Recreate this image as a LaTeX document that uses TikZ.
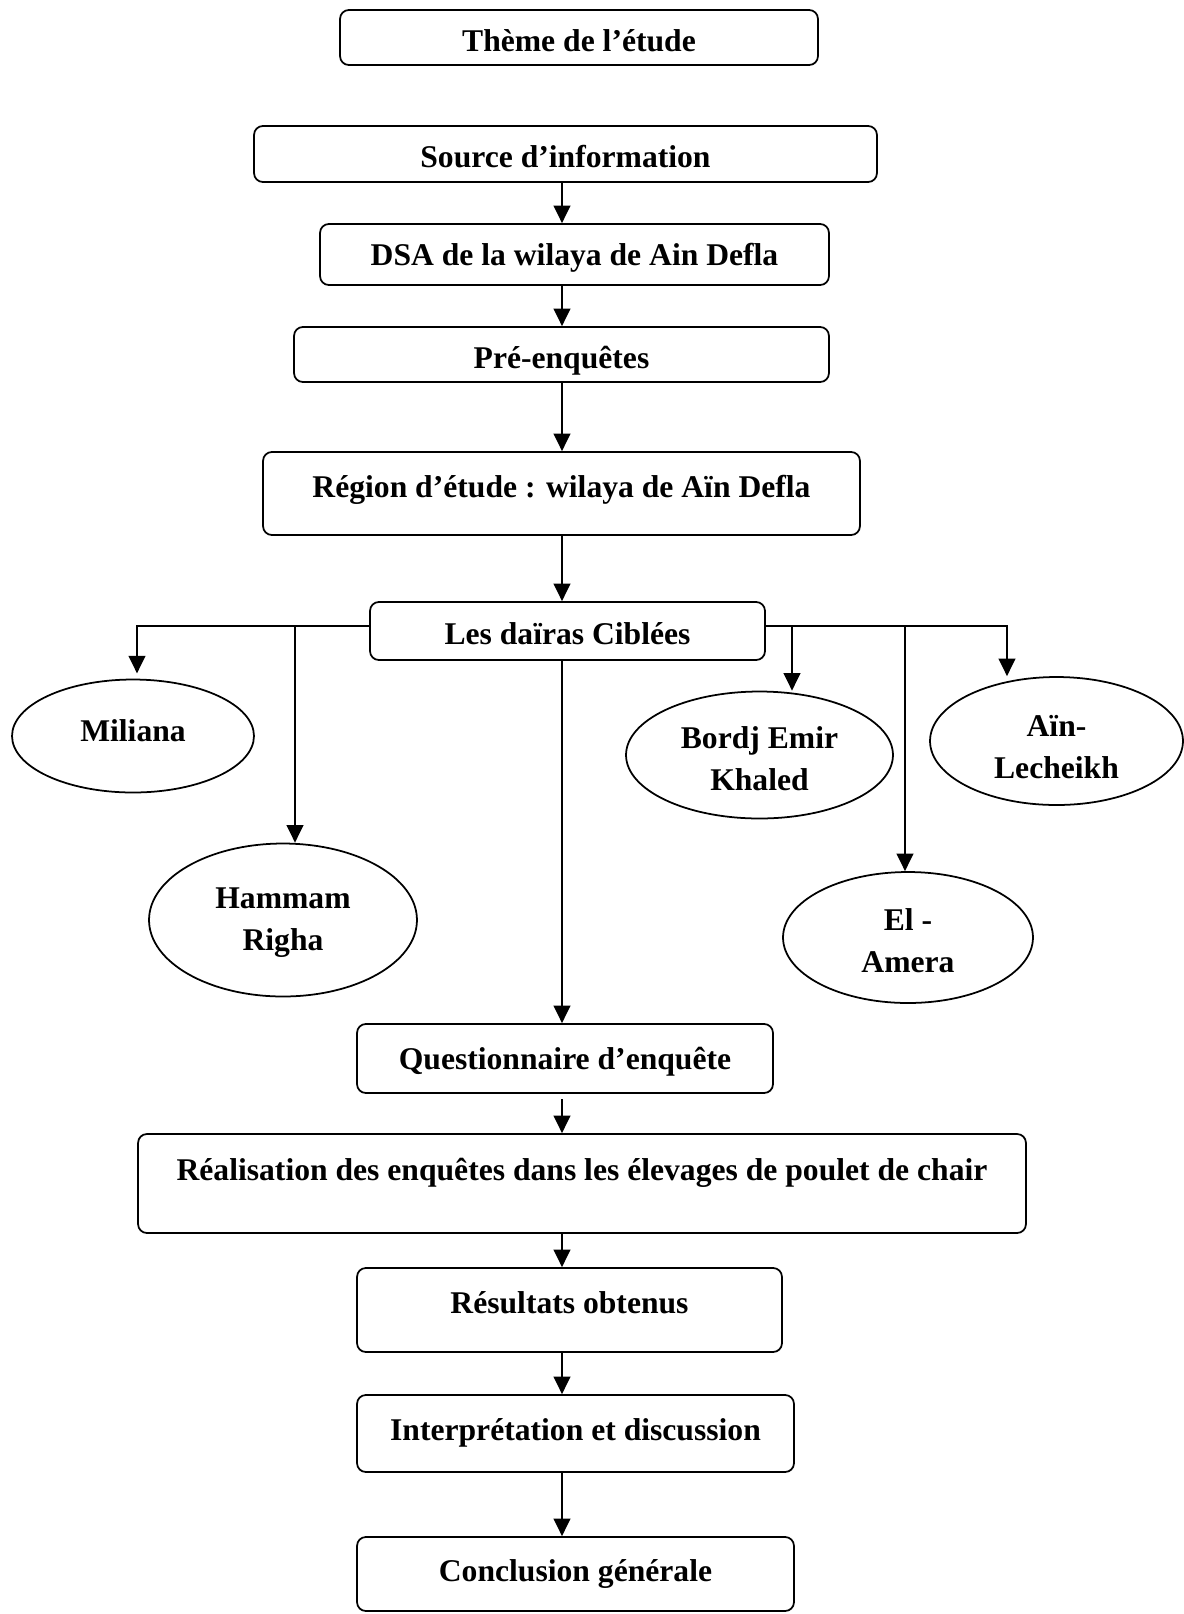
\documentclass[tikz,border=0pt]{standalone}
\usepackage{fontspec}
\setmainfont{Liberation Serif}
\usetikzlibrary{shapes.geometric, arrows.meta}

\begin{document}
\begin{tikzpicture}[x=0.02cm, y=-0.02cm,
    box/.style={rectangle, draw, rounded corners=5pt, line width=1pt, inner sep=0pt,
        font=\fontsize{18}{24}\selectfont\bfseries, align=center, text height=16pt},
    daira/.style={ellipse, draw, line width=1pt, inner sep=0pt,
        font=\fontsize{18}{24}\selectfont\bfseries, align=center},
    lift/.style={text depth=#1},
    drop/.style={text height=#1},
    link/.style={-{Triangle[length=10pt, width=9.5pt]}, line width=1.1pt}]

    \useasboundingbox (0,0) rectangle (1184,1614);

    % Main steps
    \node[box, minimum width=9.56cm, minimum height=1.10cm] (theme) at (579, 37.5) {Thème de l’étude};
    \node[box, minimum width=12.46cm, minimum height=1.12cm] (source) at (565.5, 154) {Source d’information};
    \node[box, minimum width=10.18cm, minimum height=1.22cm] (dsa) at (574.5, 254.5) {DSA de la wilaya de Ain Defla};
    \node[box, lift=0pt, minimum width=10.70cm, minimum height=1.10cm] (pre) at (561.5, 354.5) {Pré-enquêtes};
    \node[box, lift=12pt, minimum width=11.94cm, minimum height=1.66cm] (region) at (561.5, 493.5) {Région d’étude : wilaya de Aïn Defla};
    \node[box, minimum width=7.90cm, minimum height=1.16cm] (dairas) at (567.5, 631) {Les daïras Ciblées};
    \node[box, minimum width=8.32cm, minimum height=1.38cm] (quest) at (565, 1058.5) {Questionnaire d’enquête};
    \node[box, lift=19pt, minimum width=17.76cm, minimum height=1.98cm] (realis) at (582, 1183.5) {Réalisation des enquêtes dans les élevages de poulet de chair};
    \node[box, lift=12pt, minimum width=8.50cm, minimum height=1.68cm] (result) at (569.5, 1310) {Résultats obtenus};
    \node[box, lift=8pt, minimum width=8.74cm, minimum height=1.54cm] (interp) at (575.5, 1433.5) {Interprétation et discussion};
    \node[box, lift=7pt, minimum width=8.74cm, minimum height=1.48cm] (concl) at (575.5, 1574) {Conclusion générale};

    % Daïras
    \node[daira, lift=6pt, minimum width=4.84cm, minimum height=2.26cm] (miliana) at (133, 736) {Miliana};
    \node[daira, drop=38.7pt, minimum width=5.36cm, minimum height=3.06cm] (hammam) at (283, 920) {Hammam\\Righa};
    \node[daira, drop=40.4pt, minimum width=5.34cm, minimum height=2.54cm] (bordj) at (759.5, 755) {Bordj Emir\\Khaled};
    \node[daira, drop=42.8pt, minimum width=5.06cm, minimum height=2.56cm] (ainlech) at (1056.5, 741) {Aïn-\\Lecheikh};
    \node[daira, drop=39.9pt, minimum width=5.00cm, minimum height=2.62cm] (amera) at (908, 937.5) {El -\\Amera};

    % Branch points
    \coordinate (trunk) at (562, 0);
    \coordinate (bus) at (0, 626);
    \coordinate (milx) at (137, 0);
    \coordinate (hamx) at (295, 0);
    \coordinate (borx) at (792, 0);
    \coordinate (amex) at (905, 0);
    \coordinate (ainx) at (1007, 0);

    % Flow
    \draw[link] (source.south -| trunk) -- (dsa.north -| trunk);
    \draw[link] (dsa.south -| trunk) -- (pre.north -| trunk);
    \draw[link] (pre.south -| trunk) -- (region.north -| trunk);
    \draw[link] (region.south -| trunk) -- (dairas.north -| trunk);
    \draw[link] (dairas.south -| trunk) -- (quest.north -| trunk);
    \draw[link, shorten <=3pt] (quest.south -| trunk) -- (realis.north -| trunk);
    \draw[link] (realis.south -| trunk) -- (result.north -| trunk);
    \draw[link] (result.south -| trunk) -- (interp.north -| trunk);
    \draw[link] (interp.south -| trunk) -- (concl.north -| trunk);

    % Branches
    \draw[link, shorten >=3pt] (dairas.west |- bus) -| (miliana.north -| milx);
    \draw[link] (bus -| hamx) -- (hammam.north -| hamx);
    \draw[link] (dairas.east |- bus) -| (ainlech.north -| ainx);
    \draw[link] (bus -| borx) -- (bordj.north -| borx);
    \draw[link] (bus -| amex) -- (amera.north -| amex);
\end{tikzpicture}
\end{document}
